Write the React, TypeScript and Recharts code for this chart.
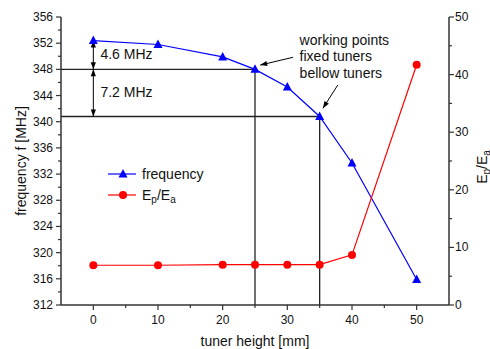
import { ComposedChart, Line, XAxis, YAxis, ReferenceLine, ReferenceDot, Legend } from 'recharts';

// measured points (tuner height in mm)
const tunerHeight = [0, 10, 20, 25, 30, 35, 40, 50];
const frequency = [352.4, 351.8, 349.9, 348.0, 345.3, 340.8, 333.7, 315.9];
const fieldRatio = [6.9, 6.9, 7.0, 7.0, 7.0, 7.0, 8.7, 41.7];

// working points
const fixedTuner = { h: 25, f: 348.0 };
const bellowTuner = { h: 35, f: 340.8 };

const xTicks = [0, 5, 10, 15, 20, 25, 30, 35, 40, 45, 50];
const xLabels = [0, 10, 20, 30, 40, 50];
const freqTicks = [312, 314, 316, 318, 320, 322, 324, 326, 328, 330, 332, 334, 336, 338, 340, 342, 344, 346, 348, 350, 352, 354, 356];
const freqLabels = [312, 316, 320, 324, 328, 332, 336, 340, 344, 348, 352, 356];
const ratioTicks = [0, 5, 10, 15, 20, 25, 30, 35, 40, 45, 50];
const ratioLabels = [0, 10, 20, 30, 40, 50];

const data = tunerHeight.map((h, i) => ({ h, freq: frequency[i], ratio: fieldRatio[i] }));

const FONT = 'Liberation Sans, Arial, sans-serif';
const AXIS = '#333';
const INK = '#111';

// tick with a major/minor mark drawn by hand
const makeTick = (side: string, labels: number[], showLabel = true) => (props: any) => {
  const { x, y, payload } = props;
  const v = payload.value;
  const major = labels.includes(v);
  const len = major ? 5 : 3;
  let line;
  let label = null;
  if (side === 'bottom') {
    line = <line x1={x} x2={x} y1={y} y2={y + len} stroke={AXIS} strokeWidth={1.2} />;
    if (major && showLabel) label = <text x={x} y={y + 15} textAnchor="middle" dominantBaseline="central" fontSize={12} fill={INK}>{v}</text>;
  } else if (side === 'top') {
    line = <line x1={x} x2={x} y1={y} y2={y + len} stroke={AXIS} strokeWidth={1.2} />;
  } else if (side === 'left') {
    line = <line x1={x - len} x2={x} y1={y} y2={y} stroke={AXIS} strokeWidth={1.2} />;
    if (major && showLabel) label = <text x={x - 8} y={y} textAnchor="end" dominantBaseline="central" fontSize={12} fill={INK}>{v}</text>;
  } else {
    line = <line x1={x} x2={x + len} y1={y} y2={y} stroke={AXIS} strokeWidth={1.2} />;
    if (major && showLabel) label = <text x={x + 6} y={y} textAnchor="start" dominantBaseline="central" fontSize={12} fill={INK}>{v}</text>;
  }
  return (
    <g>
      {line}
      {label}
    </g>
  );
};

const TriangleDot = (props: any) => {
  const { cx, cy, index } = props;
  if (cx == null || cy == null) return null;
  return <path key={`tri-${index}`} d={`M${cx},${cy - 5}L${cx + 4.5},${cy + 3.5}L${cx - 4.5},${cy + 3.5}Z`} fill="#0000ff" />;
};

const CircleDot = (props: any) => {
  const { cx, cy, index } = props;
  if (cx == null || cy == null) return null;
  return <circle key={`dot-${index}`} cx={cx} cy={cy} r={4} fill="#ff0000" />;
};

const headPath = (tx: number, ty: number, fx: number, fy: number, len = 7, half = 2.6) => {
  const dx = tx - fx;
  const dy = ty - fy;
  const d = Math.hypot(dx, dy) || 1;
  const ux = dx / d;
  const uy = dy / d;
  const bx = tx - ux * len;
  const by = ty - uy * len;
  return `M${tx},${ty}L${bx - uy * half},${by + ux * half}L${bx + uy * half},${by - ux * half}Z`;
};

const arrowShape = (both: boolean) => (props: any) => {
  const { x1, y1, x2, y2 } = props;
  return (
    <g>
      <line x1={x1} y1={y1} x2={x2} y2={y2} stroke="#000" strokeWidth={1} />
      <path d={headPath(x2, y2, x1, y1)} fill="#000" />
      {both && <path d={headPath(x1, y1, x2, y2)} fill="#000" />}
    </g>
  );
};

const textShape = (lines: string[]) => (props: any) => {
  const { cx, cy } = props;
  return (
    <text x={cx} y={cy} fontSize={14} fill={INK} dominantBaseline="central">
      {lines.map((l, i) => (
        <tspan key={l} x={cx} dy={i === 0 ? 0 : 16.5}>{l}</tspan>
      ))}
    </text>
  );
};

const LegendBox = () => (
  <svg width={110} height={46} style={{ fontFamily: FONT }}>
    <line x1={3} x2={31} y1={11} y2={11} stroke="#0000ff" strokeWidth={1.2} />
    <path d="M18,6L22.5,14.5L13.5,14.5Z" fill="#0000ff" />
    <text x={37} y={11} fontSize={14} fill={INK} dominantBaseline="central">frequency</text>
    <line x1={3} x2={31} y1={32} y2={32} stroke="#ff0000" strokeWidth={1.2} />
    <circle cx={18} cy={32} r={4} fill="#ff0000" />
    <text x={37} y={32} fontSize={14} fill={INK} dominantBaseline="central">
      E<tspan dy={4} fontSize={10}>p</tspan><tspan dy={-4}>/E</tspan><tspan dy={4} fontSize={10}>a</tspan>
    </text>
  </svg>
);

export default function App() {
  return (
    <div style={{ position: 'absolute', left: 0, top: 0, background: '#fff', fontFamily: FONT }}>
      <ComposedChart width={490} height={349} data={data} margin={{ top: 17, right: 11, bottom: 14, left: 21 }} style={{ fontFamily: FONT }}>
        <XAxis
          xAxisId="bottom"
          dataKey="h"
          type="number"
          domain={[-5, 55]}
          ticks={xTicks}
          interval={0}
          tickSize={0}
          tickMargin={0}
          height={30}
          axisLine={{ stroke: AXIS, strokeWidth: 1.5 }}
          tickLine={false}
          tick={makeTick('bottom', xLabels)}
          label={(p: any) => {
            const vb = p.viewBox;
            return (
              <text x={vb.x + vb.width / 2} y={vb.y + 36} textAnchor="middle" dominantBaseline="central" fontSize={14} fill={INK}>
                tuner height [mm]
              </text>
            );
          }}
        />
        <XAxis
          xAxisId="top"
          orientation="top"
          type="number"
          domain={[-5, 55]}
          ticks={xTicks}
          interval={0}
          tickSize={0}
          tickMargin={0}
          height={0}
          axisLine={{ stroke: AXIS, strokeWidth: 1.5 }}
          tickLine={false}
          tick={makeTick('top', xLabels, false)}
        />
        <YAxis
          yAxisId="left"
          type="number"
          domain={[312, 356]}
          ticks={freqTicks}
          interval={0}
          tickSize={0}
          tickMargin={0}
          width={40}
          axisLine={{ stroke: AXIS, strokeWidth: 1.5 }}
          tickLine={false}
          tick={makeTick('left', freqLabels)}
          label={(p: any) => {
            const vb = p.viewBox;
            const cx = vb.x;
            const cy = vb.y + vb.height / 2;
            return (
              <text x={cx} y={cy} transform={`rotate(-90 ${cx} ${cy})`} textAnchor="middle" dominantBaseline="central" fontSize={14} fill={INK}>
                frequency f [MHz]
              </text>
            );
          }}
        />
        <YAxis
          yAxisId="right"
          orientation="right"
          type="number"
          domain={[0, 50]}
          ticks={ratioTicks}
          interval={0}
          tickSize={0}
          tickMargin={0}
          width={30}
          axisLine={{ stroke: AXIS, strokeWidth: 1.5 }}
          tickLine={false}
          tick={makeTick('right', ratioLabels)}
          label={(p: any) => {
            const vb = p.viewBox;
            const cx = vb.x + 33;
            const cy = 167;
            return (
              <text x={cx} y={cy} transform={`rotate(-90 ${cx} ${cy})`} textAnchor="middle" dominantBaseline="central" fontSize={14} fill={INK}>
                E<tspan dy={4} fontSize={10}>p</tspan><tspan dy={-4}>/E</tspan><tspan dy={4} fontSize={10}>a</tspan>
              </text>
            );
          }}
        />

        {/* working point guide lines */}
        <ReferenceLine xAxisId="bottom" yAxisId="left" ifOverflow="visible" segment={[{ x: -5, y: fixedTuner.f }, { x: fixedTuner.h, y: fixedTuner.f }]} stroke="#222" strokeWidth={1.3} />
        <ReferenceLine xAxisId="bottom" yAxisId="left" ifOverflow="visible" segment={[{ x: fixedTuner.h, y: 312 }, { x: fixedTuner.h, y: fixedTuner.f }]} stroke="#222" strokeWidth={1.3} />
        <ReferenceLine xAxisId="bottom" yAxisId="left" ifOverflow="visible" segment={[{ x: -5, y: bellowTuner.f }, { x: bellowTuner.h, y: bellowTuner.f }]} stroke="#222" strokeWidth={1.3} />
        <ReferenceLine xAxisId="bottom" yAxisId="left" ifOverflow="visible" segment={[{ x: bellowTuner.h, y: 312 }, { x: bellowTuner.h, y: bellowTuner.f }]} stroke="#222" strokeWidth={1.3} />

        {/* detuning arrows */}
        <ReferenceLine xAxisId="bottom" yAxisId="left" ifOverflow="visible" segment={[{ x: 0, y: frequency[0] }, { x: 0, y: fixedTuner.f }]} shape={arrowShape(true)} />
        <ReferenceLine xAxisId="bottom" yAxisId="left" ifOverflow="visible" segment={[{ x: 0, y: fixedTuner.f }, { x: 0, y: bellowTuner.f }]} shape={arrowShape(true)} />
        <ReferenceLine xAxisId="bottom" yAxisId="left" ifOverflow="visible" segment={[{ x: 30.9, y: 349.85 }, { x: 25.8, y: 348.65 }]} shape={arrowShape(false)} />
        <ReferenceLine xAxisId="bottom" yAxisId="left" ifOverflow="visible" segment={[{ x: 37.8, y: 345.6 }, { x: 35.5, y: 342.05 }]} shape={arrowShape(false)} />

        <ReferenceDot xAxisId="bottom" yAxisId="left" ifOverflow="visible" x={1.1} y={350.35} r={0} shape={textShape(['4.6 MHz'])} />
        <ReferenceDot xAxisId="bottom" yAxisId="left" ifOverflow="visible" x={1.1} y={344.55} r={0} shape={textShape(['7.2 MHz'])} />
        <ReferenceDot xAxisId="bottom" yAxisId="left" ifOverflow="visible" x={31.9} y={352.5} r={0} shape={textShape(['working points', 'fixed tuners', 'bellow tuners'])} />

        <Line xAxisId="bottom" yAxisId="left" dataKey="freq" stroke="#0000ff" strokeWidth={1.2} dot={TriangleDot} activeDot={false} isAnimationActive={false} />
        <Line xAxisId="bottom" yAxisId="right" dataKey="ratio" stroke="#ff0000" strokeWidth={1.2} dot={CircleDot} activeDot={false} isAnimationActive={false} />

        <Legend
          layout="vertical"
          align="center"
          verticalAlign="middle"
          content={() => <LegendBox />}
          wrapperStyle={{ left: 105, top: 163, width: 110, height: 46 }}
        />
      </ComposedChart>
    </div>
  );
}
